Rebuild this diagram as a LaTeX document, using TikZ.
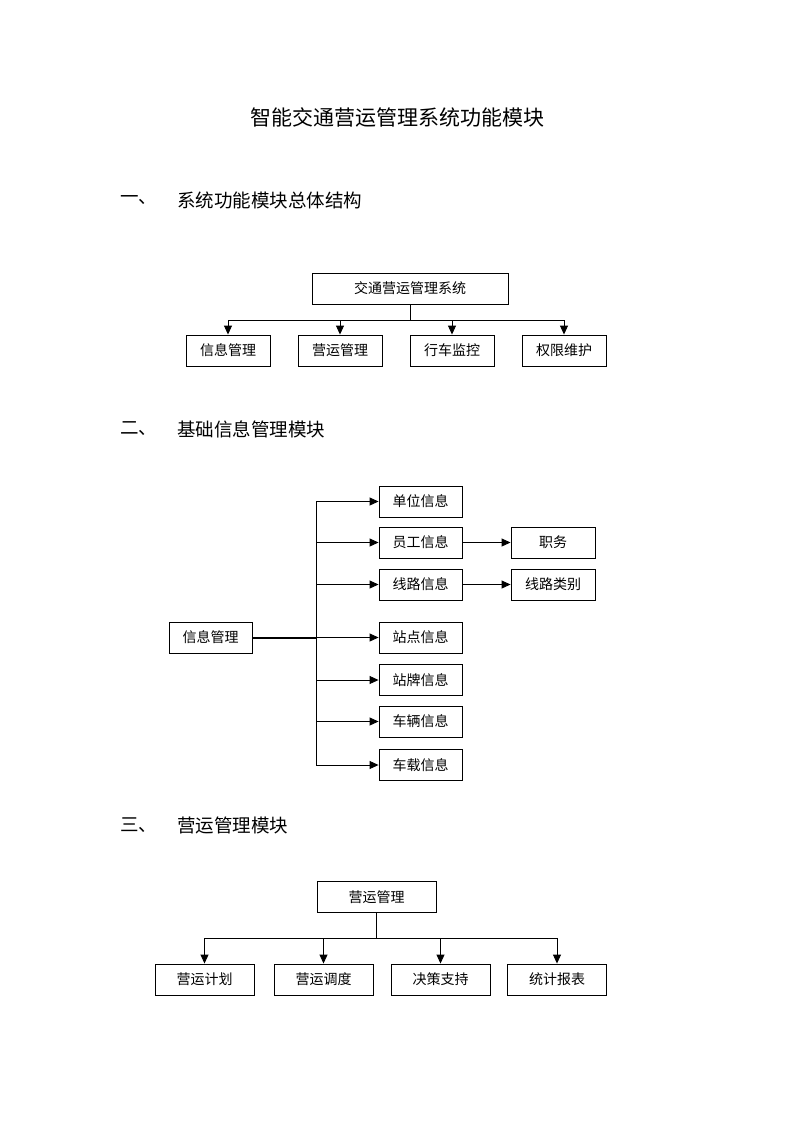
\documentclass[tikz,border=0pt]{standalone}
\usepackage{fontspec}
\newfontfamily\cjk{Noto Sans CJK SC}
\usetikzlibrary{arrows.meta, positioning}

\begin{document}
\begin{tikzpicture}[x=1pt, y=-1pt,
    box/.style={draw, line width=0.9pt, inner sep=0pt, minimum height=31pt, font=\cjk\fontsize{14}{16}\selectfont},
    link/.style={line width=0.9pt},
    arrow/.style={line width=0.9pt, -{Triangle[length=9pt, width=8pt]}},
    heading/.style={anchor=west, inner sep=0pt, font=\cjk\fontsize{18.5}{20}\selectfont}]
    \useasboundingbox (0,0) rectangle (793,1122);

    % Title and section headings
    \node[font=\cjk\fontsize{21}{24}\selectfont] (title) at (397,117) {智能交通营运管理系统功能模块};
    \node[heading] (numa) at (120,200) {一、};
    \node[heading] (heada) at (177,200) {系统功能模块总体结构};
    \node[heading] (numb) at (120,429) {二、};
    \node[heading] (headb) at (177,429) {基础信息管理模块};
    \node[heading] (numc) at (120,825) {三、};
    \node[heading] (headc) at (177,825) {营运管理模块};

    % Part one: overall structure
    \node[box, minimum width=196pt] (sys) at (410,288.5) {交通营运管理系统};
    \node[box, minimum width=84pt] (info) at (228,350.5) {信息管理};
    \node[box, minimum width=84pt] (oper) at (340,350.5) {营运管理};
    \node[box, minimum width=84pt] (watch) at (452,350.5) {行车监控};
    \node[box, minimum width=84pt] (auth) at (564,350.5) {权限维护};
    \coordinate (busa) at (410,320);

    \draw[link] (sys.south) -- (busa); % trunk
    \draw[link] (info.north |- busa) -- (auth.north |- busa); % bus
    \draw[arrow] (info.north |- busa) -- (info.north);
    \draw[arrow] (oper.north |- busa) -- (oper.north);
    \draw[arrow] (watch.north |- busa) -- (watch.north);
    \draw[arrow] (auth.north |- busa) -- (auth.north);

    % Part two: basic information
    \node[box, minimum width=83pt] (base) at (210.5,637.5) {信息管理};
    \node[box, minimum width=83pt] (unit) at (420.5,501.5) {单位信息};
    \node[box, minimum width=83pt] (staff) at (420.5,542.5) {员工信息};
    \node[box, minimum width=83pt] (line) at (420.5,584.5) {线路信息};
    \node[box, minimum width=83pt] (stop) at (420.5,637.5) {站点信息};
    \node[box, minimum width=83pt] (sign) at (420.5,680) {站牌信息};
    \node[box, minimum width=83pt] (car) at (420.5,721.5) {车辆信息};
    \node[box, minimum width=83pt] (onboard) at (420.5,765) {车载信息};
    \node[box, minimum width=84pt] (duty) at (553,542.5) {职务};
    \node[box, minimum width=84pt] (kind) at (553,584.5) {线路类别};
    \coordinate (busb) at (316,637.5);

    \draw[line width=2pt] (base.east) -- (busb); % thick feed
    \draw[link] (busb |- unit) -- (busb |- onboard); % spine
    \draw[arrow] (busb |- unit) -- (unit.west);
    \draw[arrow] (busb |- staff) -- (staff.west);
    \draw[arrow] (busb |- line) -- (line.west);
    \draw[arrow] (busb) -- (stop.west);
    \draw[arrow] (busb |- sign) -- (sign.west);
    \draw[arrow] (busb |- car) -- (car.west);
    \draw[arrow] (busb |- onboard) -- (onboard.west);
    \draw[arrow] (staff.east) -- (duty.west);
    \draw[arrow] (line.east) -- (kind.west);

    % Part three: operation management
    \node[box, minimum width=119pt] (ops) at (376.5,897) {营运管理};
    \node[box, minimum width=99pt] (plan) at (204.5,979.5) {营运计划};
    \node[box, minimum width=99pt] (disp) at (323.5,979.5) {营运调度};
    \node[box, minimum width=99pt] (deci) at (440.5,979.5) {决策支持};
    \node[box, minimum width=99pt] (stat) at (557,979.5) {统计报表};
    \coordinate (busc) at (376.5,938);

    \draw[link] (ops.south) -- (busc); % trunk
    \draw[link] (plan.north |- busc) -- (stat.north |- busc); % bus
    \draw[arrow] (plan.north |- busc) -- (plan.north);
    \draw[arrow] (disp.north |- busc) -- (disp.north);
    \draw[arrow] (deci.north |- busc) -- (deci.north);
    \draw[arrow] (stat.north |- busc) -- (stat.north);
\end{tikzpicture}
\end{document}
